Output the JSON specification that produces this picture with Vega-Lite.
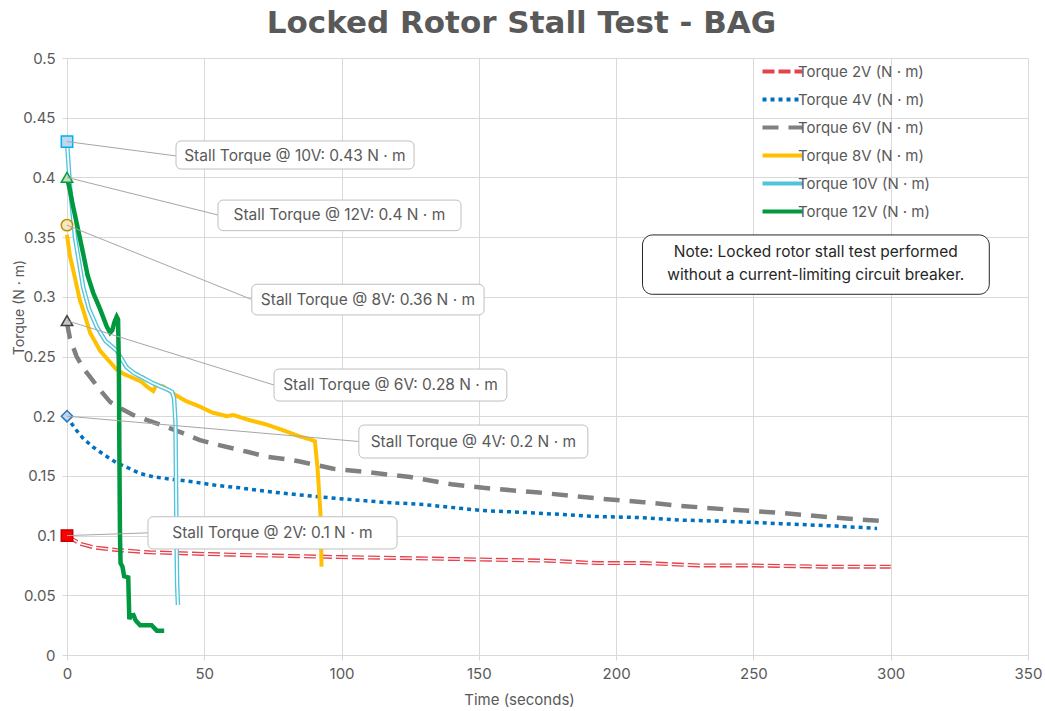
{
  "$schema": "https://vega.github.io/schema/vega-lite/v6.json",
  "width": 961,
  "height": 597,
  "autosize": {"type": "none"},
  "padding": {"left": 67, "top": 58, "right": 17, "bottom": 56},
  "background": "white",
  "title": {"text": "Locked Rotor Stall Test - BAG", "font": "DejaVu Sans", "fontSize": 31, "fontWeight": "bold", "color": "#595959", "anchor": "middle", "dx": -26, "offset": 11},
  "config": {
    "view": {"stroke": null},
    "font": "Inter",
    "axis": {"gridColor": "#D9D9D9", "domainColor": "#D9D9D9", "tickColor": "#D9D9D9", "tickSize": 5, "labelFlush": false, "labelFont": "Inter", "labelFontSize": 15, "labelColor": "#595959", "titleFont": "Inter", "titleFontWeight": "normal", "titleColor": "#595959", "titleFontSize": 15},
    "legend": {"orient": "none", "legendX": 708, "legendY": 6, "padding": 0, "labelFont": "Inter", "labelFontSize": 15, "labelColor": "#595959", "symbolType": "M-5,0H5", "symbolSize": 64, "symbolStrokeWidth": 4, "labelOffset": 8, "rowPadding": 11}
  },
  "datasets": {
    "lines": [
      {"s":"2V","t":0,"v":0.1},{"s":"2V","t":2,"v":0.097},{"s":"2V","t":5,"v":0.093},{"s":"2V","t":10,"v":0.09},{"s":"2V","t":18,"v":0.088},{"s":"2V","t":30,"v":0.086},{"s":"2V","t":45,"v":0.085},{"s":"2V","t":60,"v":0.084},{"s":"2V","t":80,"v":0.083},{"s":"2V","t":100,"v":0.082},{"s":"2V","t":127,"v":0.081},{"s":"2V","t":150,"v":0.08},{"s":"2V","t":175,"v":0.079},{"s":"2V","t":193,"v":0.077},{"s":"2V","t":210,"v":0.077},{"s":"2V","t":230,"v":0.075},{"s":"2V","t":250,"v":0.075},{"s":"2V","t":275,"v":0.074},{"s":"2V","t":300,"v":0.074},
      {"s":"4V","t":0,"v":0.2},{"s":"4V","t":1,"v":0.196},{"s":"4V","t":3.5,"v":0.188},{"s":"4V","t":6,"v":0.181},{"s":"4V","t":9.6,"v":0.174},{"s":"4V","t":14,"v":0.167},{"s":"4V","t":18,"v":0.161},{"s":"4V","t":22,"v":0.157},{"s":"4V","t":26.6,"v":0.152},{"s":"4V","t":32,"v":0.149},{"s":"4V","t":38.7,"v":0.147},{"s":"4V","t":46,"v":0.145},{"s":"4V","t":54.5,"v":0.142},{"s":"4V","t":63,"v":0.14},{"s":"4V","t":72.7,"v":0.137},{"s":"4V","t":85,"v":0.134},{"s":"4V","t":99,"v":0.131},{"s":"4V","t":115,"v":0.128},{"s":"4V","t":130,"v":0.126},{"s":"4V","t":151,"v":0.121},{"s":"4V","t":170,"v":0.119},{"s":"4V","t":193,"v":0.116},{"s":"4V","t":210,"v":0.115},{"s":"4V","t":223,"v":0.113},{"s":"4V","t":240,"v":0.112},{"s":"4V","t":260,"v":0.11},{"s":"4V","t":280,"v":0.108},{"s":"4V","t":295,"v":0.106},
      {"s":"6V","t":0,"v":0.278},{"s":"6V","t":1.1,"v":0.265},{"s":"6V","t":3.5,"v":0.25},{"s":"6V","t":6,"v":0.24},{"s":"6V","t":8.4,"v":0.233},{"s":"6V","t":12,"v":0.222},{"s":"6V","t":15.7,"v":0.212},{"s":"6V","t":20,"v":0.206},{"s":"6V","t":24.1,"v":0.201},{"s":"6V","t":30,"v":0.196},{"s":"6V","t":36.3,"v":0.191},{"s":"6V","t":42,"v":0.186},{"s":"6V","t":48.4,"v":0.18},{"s":"6V","t":55,"v":0.176},{"s":"6V","t":60.6,"v":0.173},{"s":"6V","t":66,"v":0.17},{"s":"6V","t":72.7,"v":0.166},{"s":"6V","t":80,"v":0.164},{"s":"6V","t":84.8,"v":0.162},{"s":"6V","t":91,"v":0.159},{"s":"6V","t":97,"v":0.156},{"s":"6V","t":110,"v":0.153},{"s":"6V","t":125,"v":0.149},{"s":"6V","t":140,"v":0.143},{"s":"6V","t":151.6,"v":0.14},{"s":"6V","t":172,"v":0.136},{"s":"6V","t":194,"v":0.131},{"s":"6V","t":210,"v":0.128},{"s":"6V","t":223,"v":0.125},{"s":"6V","t":240,"v":0.122},{"s":"6V","t":260,"v":0.119},{"s":"6V","t":280,"v":0.115},{"s":"6V","t":298,"v":0.112},
      {"s":"8V","t":0,"v":0.352},{"s":"8V","t":1,"v":0.335},{"s":"8V","t":2.3,"v":0.322},{"s":"8V","t":4.7,"v":0.297},{"s":"8V","t":5.9,"v":0.289},{"s":"8V","t":8.4,"v":0.27},{"s":"8V","t":12,"v":0.255},{"s":"8V","t":15,"v":0.247},{"s":"8V","t":18.1,"v":0.239},{"s":"8V","t":21,"v":0.235},{"s":"8V","t":24.1,"v":0.232},{"s":"8V","t":27,"v":0.229},{"s":"8V","t":29,"v":0.225},{"s":"8V","t":31.4,"v":0.221},{"s":"8V","t":32.5,"v":0.226},{"s":"8V","t":35,"v":0.225},{"s":"8V","t":38.7,"v":0.219},{"s":"8V","t":43,"v":0.213},{"s":"8V","t":48.4,"v":0.208},{"s":"8V","t":53,"v":0.203},{"s":"8V","t":58.2,"v":0.2},{"s":"8V","t":60.6,"v":0.201},{"s":"8V","t":66,"v":0.197},{"s":"8V","t":72.7,"v":0.193},{"s":"8V","t":79,"v":0.188},{"s":"8V","t":84.8,"v":0.183},{"s":"8V","t":88,"v":0.181},{"s":"8V","t":90.3,"v":0.179},{"s":"8V","t":91.3,"v":0.155},{"s":"8V","t":92.3,"v":0.119},{"s":"8V","t":92.7,"v":0.074},
      {"s":"10V","t":0,"v":0.43},{"s":"10V","t":1.1,"v":0.392},{"s":"10V","t":2.9,"v":0.35},{"s":"10V","t":5.9,"v":0.308},{"s":"10V","t":8,"v":0.29},{"s":"10V","t":10.8,"v":0.275},{"s":"10V","t":14,"v":0.263},{"s":"10V","t":18.1,"v":0.255},{"s":"10V","t":21.7,"v":0.241},{"s":"10V","t":24.5,"v":0.236},{"s":"10V","t":27.8,"v":0.232},{"s":"10V","t":31,"v":0.228},{"s":"10V","t":33.9,"v":0.225},{"s":"10V","t":36,"v":0.223},{"s":"10V","t":38.2,"v":0.2205},{"s":"10V","t":39,"v":0.215},{"s":"10V","t":39.5,"v":0.195},{"s":"10V","t":39.8,"v":0.12},{"s":"10V","t":40.1,"v":0.06},{"s":"10V","t":40.4,"v":0.042},
      {"s":"12V","t":0,"v":0.4},{"s":"12V","t":1,"v":0.39},{"s":"12V","t":2,"v":0.378},{"s":"12V","t":3.5,"v":0.362},{"s":"12V","t":5.9,"v":0.336},{"s":"12V","t":7.5,"v":0.318},{"s":"12V","t":9.6,"v":0.303},{"s":"12V","t":12,"v":0.29},{"s":"12V","t":14.5,"v":0.275},{"s":"12V","t":15.7,"v":0.27},{"s":"12V","t":16.5,"v":0.272},{"s":"12V","t":17.3,"v":0.279},{"s":"12V","t":18.1,"v":0.2833},{"s":"12V","t":18.6,"v":0.281},{"s":"12V","t":18.9,"v":0.24},{"s":"12V","t":19.1,"v":0.16},{"s":"12V","t":19.3,"v":0.1},{"s":"12V","t":19.5,"v":0.077},{"s":"12V","t":20.2,"v":0.074},{"s":"12V","t":20.8,"v":0.066},{"s":"12V","t":22.3,"v":0.065},{"s":"12V","t":22.7,"v":0.03},{"s":"12V","t":23.2,"v":0.033},{"s":"12V","t":24.2,"v":0.0335},{"s":"12V","t":25,"v":0.029},{"s":"12V","t":26.6,"v":0.025},{"s":"12V","t":30.8,"v":0.025},{"s":"12V","t":32.7,"v":0.0204},{"s":"12V","t":35.4,"v":0.0204}
    ],
    "markers": [
      {"m":"2V","t":0,"v":0.1},{"m":"4V","t":0,"v":0.2},{"m":"6V","t":0,"v":0.28},{"m":"8V","t":0,"v":0.36},{"m":"10V","t":0,"v":0.43},{"m":"12V","t":0,"v":0.4}
    ],
    "notes": [
      {"t":0,"v":0.43,"bx1":39.7,"bx2":126.4,"by1":0.407,"by2":0.4305,"tx":83.0,"ty":0.418,"label":"Stall Torque @ 10V: 0.43 N · m"},
      {"t":0,"v":0.4,"bx1":55.0,"bx2":143.5,"by1":0.3554,"by2":0.381,"tx":99.2,"ty":0.3685,"label":"Stall Torque @ 12V: 0.4 N · m"},
      {"t":0,"v":0.36,"bx1":67.3,"bx2":151.9,"by1":0.2848,"by2":0.3105,"tx":109.6,"ty":0.2977,"label":"Stall Torque @ 8V: 0.36 N · m"},
      {"t":0,"v":0.28,"bx1":75.4,"bx2":160.2,"by1":0.2127,"by2":0.2395,"tx":117.8,"ty":0.2261,"label":"Stall Torque @ 6V: 0.28 N · m"},
      {"t":0,"v":0.2,"bx1":106.3,"bx2":189.7,"by1":0.165,"by2":0.1926,"tx":148.0,"ty":0.1788,"label":"Stall Torque @ 4V: 0.2 N · m"},
      {"t":0,"v":0.1,"bx1":29.5,"bx2":120.2,"by1":0.0888,"by2":0.1158,"tx":74.8,"ty":0.1023,"label":"Stall Torque @ 2V: 0.1 N · m"}
    ],
    "note": [
      {"bx1":209.6,"bx2":335.9,"by1":0.3021,"by2":0.3518,"tx":272.7,"ty":0.3375,"label":"Note: Locked rotor stall test performed\nwithout a current-limiting circuit breaker."}
    ]
  },
  "layer": [
    {
      "data": {"name": "lines"},
      "transform": [{"filter": "datum.s == '2V'"}],
      "mark": {"type": "line", "strokeWidth": 4},
      "encoding": {
        "x": {"field": "t", "type": "quantitative", "scale": {"domain": [0, 350], "nice": false}, "axis": {"title": "Time (seconds)", "values": [0,50,100,150,200,250,300,350], "grid": true, "labelPadding": 6, "titleX": 452, "titleY": 44, "titleBaseline": "middle"}},
        "y": {"field": "v", "type": "quantitative", "scale": {"domain": [0, 0.5], "nice": false}, "axis": {"title": "Torque (N · m)", "values": [0,0.05,0.1,0.15,0.2,0.25,0.3,0.35,0.4,0.45,0.5], "format": "~g", "grid": true, "labelPadding": 7, "titleX": -48, "titleY": 249, "titleAngle": -90, "titleAlign": "center", "titleBaseline": "middle", "titleFontSize": 14}},
        "color": {"field": "s", "type": "nominal", "scale": {"domain": ["2V","4V","6V","8V","10V","12V"], "range": ["#E5424D","#0070C0","#808080","#FFC000","#4FC4DC","#00993F"]}, "legend": {"title": null, "labelExpr": "'Torque ' + datum.label + ' (N · m)'"}},
        "strokeDash": {"field": "s", "type": "nominal", "scale": {"domain": ["2V","4V","6V","8V","10V","12V"], "range": [[12,4],[4,4],[16,10],[1,0],[1,0],[1,0]]}, "legend": {"title": null, "labelExpr": "'Torque ' + datum.label + ' (N · m)'"}}
      }
    },
    {
      "data": {"name": "lines"},
      "transform": [{"filter": "datum.s == '2V'"}],
      "mark": {"type": "line", "strokeWidth": 1.3, "color": "white", "strokeDash": [12, 4]},
      "encoding": {"x": {"field": "t", "type": "quantitative"}, "y": {"field": "v", "type": "quantitative"}}
    },
    {
      "data": {"name": "lines"},
      "transform": [{"filter": "datum.s == '4V'"}],
      "mark": {"type": "line", "strokeWidth": 3.5},
      "encoding": {"x": {"field": "t", "type": "quantitative"}, "y": {"field": "v", "type": "quantitative"}, "color": {"field": "s", "type": "nominal"}, "strokeDash": {"field": "s", "type": "nominal"}}
    },
    {
      "data": {"name": "lines"},
      "transform": [{"filter": "datum.s == '6V'"}],
      "mark": {"type": "line", "strokeWidth": 4.5},
      "encoding": {"x": {"field": "t", "type": "quantitative"}, "y": {"field": "v", "type": "quantitative"}, "color": {"field": "s", "type": "nominal"}, "strokeDash": {"field": "s", "type": "nominal"}}
    },
    {
      "data": {"name": "lines"},
      "transform": [{"filter": "datum.s == '8V'"}],
      "mark": {"type": "line", "strokeWidth": 4},
      "encoding": {"x": {"field": "t", "type": "quantitative"}, "y": {"field": "v", "type": "quantitative"}, "color": {"field": "s", "type": "nominal"}, "strokeDash": {"field": "s", "type": "nominal"}}
    },
    {
      "data": {"name": "lines"},
      "transform": [{"filter": "datum.s == '10V'"}],
      "mark": {"type": "line", "strokeWidth": 4.5},
      "encoding": {"x": {"field": "t", "type": "quantitative"}, "y": {"field": "v", "type": "quantitative"}, "color": {"field": "s", "type": "nominal"}, "strokeDash": {"field": "s", "type": "nominal"}}
    },
    {
      "data": {"name": "lines"},
      "transform": [{"filter": "datum.s == '10V'"}],
      "mark": {"type": "line", "strokeWidth": 1.8, "color": "white"},
      "encoding": {"x": {"field": "t", "type": "quantitative"}, "y": {"field": "v", "type": "quantitative"}}
    },
    {
      "data": {"name": "lines"},
      "transform": [{"filter": "datum.s == '12V'"}],
      "mark": {"type": "line", "strokeWidth": 4.5},
      "encoding": {"x": {"field": "t", "type": "quantitative"}, "y": {"field": "v", "type": "quantitative"}, "color": {"field": "s", "type": "nominal"}, "strokeDash": {"field": "s", "type": "nominal"}}
    },
    {
      "data": {"name": "markers"},
      "transform": [{"filter": "datum.m == '2V'"}],
      "mark": {"type": "point", "shape": "square", "filled": true, "fill": "#FF0000", "stroke": "#C00000", "strokeWidth": 1.5, "size": 130, "opacity": 1},
      "encoding": {"x": {"field": "t", "type": "quantitative"}, "y": {"field": "v", "type": "quantitative"}}
    },
    {
      "data": {"name": "markers"},
      "transform": [{"filter": "datum.m == '4V'"}],
      "mark": {"type": "point", "shape": "diamond", "filled": true, "fill": "#BDD7EE", "stroke": "#2E75B6", "strokeWidth": 1.5, "size": 130, "opacity": 1},
      "encoding": {"x": {"field": "t", "type": "quantitative"}, "y": {"field": "v", "type": "quantitative"}}
    },
    {
      "data": {"name": "markers"},
      "transform": [{"filter": "datum.m == '6V'"}],
      "mark": {"type": "point", "shape": "triangle-up", "filled": true, "fill": "#C8C8C8", "stroke": "#404040", "strokeWidth": 1.5, "size": 130, "opacity": 1},
      "encoding": {"x": {"field": "t", "type": "quantitative"}, "y": {"field": "v", "type": "quantitative"}}
    },
    {
      "data": {"name": "markers"},
      "transform": [{"filter": "datum.m == '8V'"}],
      "mark": {"type": "point", "shape": "circle", "filled": true, "fill": "#F5E7BE", "stroke": "#BF9000", "strokeWidth": 1.5, "size": 130, "opacity": 1},
      "encoding": {"x": {"field": "t", "type": "quantitative"}, "y": {"field": "v", "type": "quantitative"}}
    },
    {
      "data": {"name": "markers"},
      "transform": [{"filter": "datum.m == '10V'"}],
      "mark": {"type": "point", "shape": "square", "filled": true, "fill": "#BDD7EE", "stroke": "#00B0F0", "strokeWidth": 1.5, "size": 130, "opacity": 1},
      "encoding": {"x": {"field": "t", "type": "quantitative"}, "y": {"field": "v", "type": "quantitative"}}
    },
    {
      "data": {"name": "markers"},
      "transform": [{"filter": "datum.m == '12V'"}],
      "mark": {"type": "point", "shape": "triangle-up", "filled": true, "fill": "#C5E0B4", "stroke": "#00A03E", "strokeWidth": 1.5, "size": 130, "opacity": 1},
      "encoding": {"x": {"field": "t", "type": "quantitative"}, "y": {"field": "v", "type": "quantitative"}}
    },
    {
      "data": {"name": "notes"},
      "mark": {"type": "rule", "color": "#A6A6A6", "strokeWidth": 1},
      "encoding": {"x": {"field": "t", "type": "quantitative"}, "y": {"field": "v", "type": "quantitative"}, "x2": {"field": "bx1"}, "y2": {"field": "ty"}}
    },
    {
      "data": {"name": "notes"},
      "mark": {"type": "rect", "fill": "white", "stroke": "#BFBFBF", "strokeWidth": 1, "cornerRadius": 5},
      "encoding": {"x": {"field": "bx1", "type": "quantitative"}, "x2": {"field": "bx2"}, "y": {"field": "by1", "type": "quantitative"}, "y2": {"field": "by2"}}
    },
    {
      "data": {"name": "notes"},
      "mark": {"type": "text", "font": "Inter", "fontSize": 15.5, "color": "#595959", "align": "center", "baseline": "middle"},
      "encoding": {"x": {"field": "tx", "type": "quantitative"}, "y": {"field": "ty", "type": "quantitative"}, "text": {"field": "label"}}
    },
    {
      "data": {"name": "note"},
      "mark": {"type": "rect", "fill": "white", "stroke": "#262626", "strokeWidth": 1, "cornerRadius": 10},
      "encoding": {"x": {"field": "bx1", "type": "quantitative"}, "x2": {"field": "bx2"}, "y": {"field": "by1", "type": "quantitative"}, "y2": {"field": "by2"}}
    },
    {
      "data": {"name": "note"},
      "mark": {"type": "text", "font": "Inter", "fontSize": 15.5, "color": "#262626", "align": "center", "baseline": "middle", "lineBreak": "\n", "lineHeight": 23},
      "encoding": {"x": {"field": "tx", "type": "quantitative"}, "y": {"field": "ty", "type": "quantitative"}, "text": {"field": "label"}}
    }
  ]
}
